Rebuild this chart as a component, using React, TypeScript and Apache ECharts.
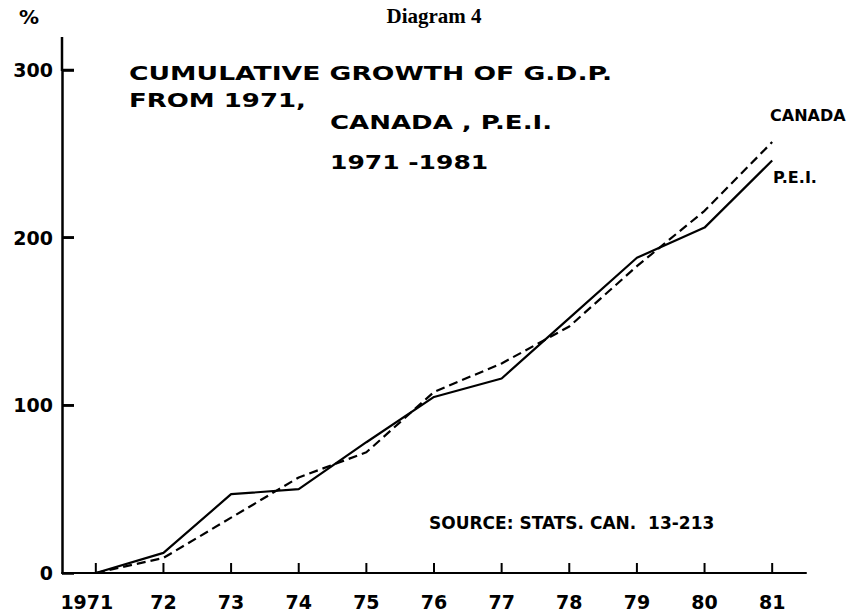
import React, { useEffect, useRef } from "react";
import * as echarts from "echarts";

const years = ["1971", "72", "73", "74", "75", "76", "77", "78", "79", "80", "81"];
const peiValues = [0, 12, 47, 50, 78, 105, 116, 152, 188, 206, 246];
const canadaValues = [0, 9, 33, 57, 72, 108, 125, 147, 183, 216, 257];
const yTickValues = [100, 200, 300];

const titleLines = ["CUMULATIVE GROWTH OF G.D.P.", "FROM 1971,"];
const subtitleLines = ["CANADA , P.E.I.", "1971 -1981"];
const seriesNames = ["CANADA", "P.E.I."];
const sourceText = "SOURCE: STATS. CAN.  13-213";
const diagramText = "Diagram 4";
const unitText = "%";

const FONT = "'DejaVu Sans', 'Noto Sans', sans-serif";

export default function App() {
  const ref = useRef<HTMLDivElement>(null);
  useEffect(() => {
    const chart = echarts.init(ref.current!, null, { renderer: "svg" });
    const letter = (text: string, x: number, y: number, size: number, sx = 1) => ({
      type: "text",
      x,
      y,
      scaleX: sx,
      style: {
        text,
        x: 0,
        y: 0,
        fill: "#000",
        font: `bold ${size}px ${FONT}`,
        textAlign: "left",
        textVerticalAlign: "middle",
      },
    });
    chart.setOption({
      animation: false,
      backgroundColor: "#fff",
      grid: { left: 62, right: 56, top: 70, bottom: 40 },
      xAxis: {
        type: "category",
        data: years,
        boundaryGap: true,
        axisLine: { lineStyle: { color: "#000", width: 2 } },
        axisTick: {
          alignWithLabel: true,
          inside: true,
          length: 10,
          lineStyle: { color: "#000", width: 2 },
        },
        axisLabel: {
          interval: 0,
          color: "#000",
          fontFamily: FONT,
          fontWeight: "bold",
          fontSize: 19,
          margin: 19,
          formatter: (v: string, i: number) => (i === 0 ? `{first|${v}}` : v),
          rich: {
            first: {
              color: "#000",
              fontFamily: FONT,
              fontWeight: "bold",
              fontSize: 19,
              padding: [0, 18, 0, 0],
            },
          },
        },
        splitLine: { show: false },
      },
      yAxis: {
        type: "value",
        min: 0,
        max: 300,
        interval: 100,
        axisLine: { show: true, lineStyle: { color: "#000", width: 2.5 } },
        axisTick: {
          show: true,
          inside: true,
          length: 12,
          lineStyle: { color: "#000", width: 2.5 },
        },
        axisLabel: {
          color: "#000",
          fontFamily: FONT,
          fontWeight: "bold",
          fontSize: 19,
          margin: 9,
        },
        splitLine: { show: false },
      },
      series: [
        {
          name: seriesNames[0],
          type: "line",
          data: canadaValues,
          symbol: "none",
          lineStyle: { color: "#000", width: 2.2, type: [9, 5] },
        },
        {
          name: seriesNames[1],
          type: "line",
          data: peiValues,
          symbol: "none",
          lineStyle: { color: "#000", width: 2.2 },
        },
        {
          name: "xTicks",
          type: "custom",
          silent: true,
          z: 5,
          data: years.map((_, i) => [i, 0]),
          renderItem: (params: any, api: any) => {
            const p = api.coord([api.value(0), 0]);
            return {
              type: "line",
              shape: { x1: p[0], y1: p[1], x2: p[0], y2: p[1] - 10 },
              style: { stroke: "#000", lineWidth: 2 },
            };
          },
        },
        {
          name: "yTicks",
          type: "custom",
          silent: true,
          clip: false,
          z: 5,
          data: yTickValues.map((v) => [0, v]),
          renderItem: (params: any, api: any) => {
            const p = api.coord([0, api.value(1)]);
            const band = api.size([1, 0])[0];
            const x0 = p[0] - band / 2;
            return {
              type: "rect",
              shape: { x: x0, y: p[1] - 1.25, width: 12, height: 2.5 },
              style: { fill: "#000" },
            };
          },
        },
      ],
      graphic: [
        {
          type: "line",
          shape: { x1: 62, y1: 71, x2: 62, y2: 37 },
          style: { stroke: "#000", lineWidth: 2.5 },
        },
        letter(unitText, 19, 17, 20),
        {
          type: "text",
          x: 434,
          y: 16,
          style: {
            text: diagramText,
            fill: "#000",
            font: "bold 21px 'Liberation Serif', serif",
            textAlign: "center",
            textVerticalAlign: "middle",
          },
        },
        letter(titleLines[0], 129, 73, 20, 1.33),
        letter(titleLines[1], 129, 100, 20, 1.3),
        letter(subtitleLines[0], 330, 122, 20, 1.3),
        letter(subtitleLines[1], 330, 162, 20, 1.25),
        letter(seriesNames[0], 770, 115, 16),
        letter(seriesNames[1], 773, 177, 16),
        letter(sourceText, 429, 523, 17),
      ],
    });
    return () => chart.dispose();
  }, []);
  return (
    <div
      ref={ref}
      style={{ position: "fixed", left: 0, top: 0, width: 862, height: 613 }}
    />
  );
}
